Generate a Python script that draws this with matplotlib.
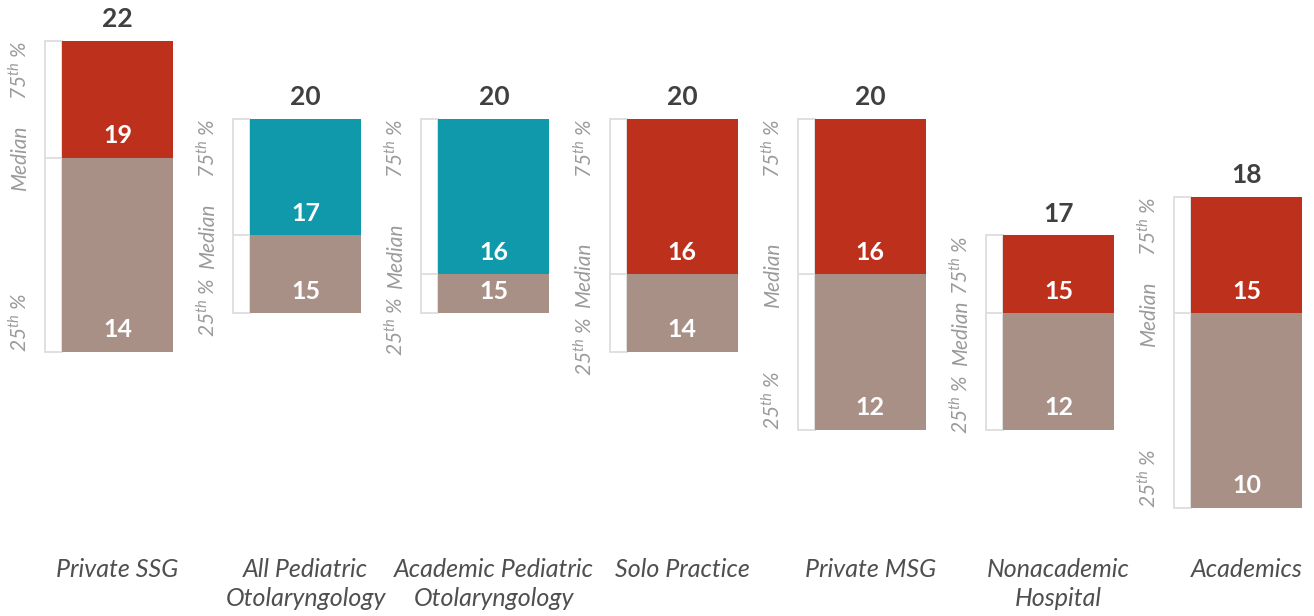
import numpy as np
import matplotlib
matplotlib.use("Agg")
import matplotlib.pyplot as plt

# Data
categories = ["Private SSG", "All Pediatric\nOtolaryngology", "Academic Pediatric\nOtolaryngology",
              "Solo Practice", "Private MSG", "Nonacademic\nHospital", "Academics"]
p25 = np.array([14, 15, 15, 14, 12, 12, 10])
median = np.array([19, 17, 16, 16, 16, 15, 15])
p75 = np.array([22, 20, 20, 20, 20, 17, 18])
top_colors = ["#BD301C", "#0F99AA", "#0F99AA", "#BD301C", "#BD301C", "#BD301C", "#BD301C"]

taupe = "#A89087"
txt_dark = "#404040"
txt_pct = "#9A9A9A"
txt_cat = "#4F4F4F"

plt.rcParams["font.family"] = ["Lato", "DejaVu Sans"]
plt.rcParams["mathtext.fontset"] = "custom"
plt.rcParams["mathtext.rm"] = "Lato:italic"
plt.rcParams["mathtext.it"] = "Lato:italic"

fig = plt.figure(figsize=(13.14, 6.16), dpi=100)
ax = fig.add_axes([0, 0, 1, 1])
ax.set_xlim(-0.624, 6.357)
ax.set_ylim(7.22, 23.05)
ax.axis("off")

x = np.arange(len(categories))
w = 0.59
bw = 0.09  # bracket box width

# bracket boxes left of each bar
ax.bar(x - w / 2 - bw / 2, p75 - p25, bottom=p25, width=bw, facecolor="white",
       edgecolor="#DDDDDD", linewidth=1.3, zorder=1)
ax.hlines(median, x - w / 2 - bw, x - w / 2, color="#DDDDDD", linewidth=1.3, zorder=1)

# bars
ax.bar(x, median - p25, bottom=p25, width=w, color=taupe, zorder=2)
ax.bar(x, p75 - median, bottom=median, width=w, color=top_colors, zorder=2)

pct_kw = dict(rotation=90, ha="center", color=txt_pct, fontsize=15, fontstyle="italic")
for i in range(len(x)):
    # value labels
    ax.text(x[i], p75[i] + 0.25, str(p75[i]), ha="center", va="bottom",
            fontsize=19, fontweight="bold", color=txt_dark)
    ax.text(x[i], median[i] + 0.57, str(median[i]), ha="center", va="center",
            fontsize=18, fontweight="bold", color="white", zorder=3)
    ax.text(x[i], p25[i] + 0.57, str(p25[i]), ha="center", va="center",
            fontsize=18, fontweight="bold", color="white", zorder=3)

    # percentile labels, pushed apart when the bar is short
    m = min(max(median[i], p25[i] + 1.5), p75[i] - 2.5)
    y25 = min(p25[i], m - 2.6)
    lx = x[i] - 0.52
    ax.text(lx, p75[i], r"75$^{\mathrm{th}}$ %", va="top", **pct_kw)
    ax.text(lx, m, "Median", va="center", **pct_kw)
    ax.text(lx, y25, r"25$^{\mathrm{th}}$ %", va="bottom", **pct_kw)

    # category label
    ax.text(x[i], 0.094, categories[i], transform=ax.get_xaxis_transform(),
            ha="center", va="top", fontsize=18, fontstyle="italic",
            color=txt_cat, linespacing=1.3)

fig.savefig("out.png", dpi=100)
